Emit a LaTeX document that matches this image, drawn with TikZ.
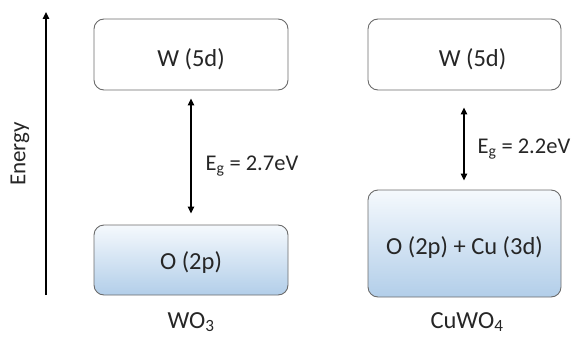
\documentclass[tikz,border=0pt]{standalone}
\usepackage{fontspec}
\setmainfont{Carlito}
\usetikzlibrary{arrows.meta}
\definecolor{boxline}{HTML}{6B6B6B}
\definecolor{gradtop}{HTML}{F5F9FD}
\definecolor{gradbot}{HTML}{B2CEE9}
\begin{document}
\begin{tikzpicture}[x=1pt,y=1pt,
  txt/.style={font=\fontsize{22.5}{26}\selectfont, text=black!85},
  big/.style={font=\fontsize{24.5}{28}\selectfont, text=black!85},
  lvl/.style={big, draw=boxline, line width=0.9pt, rounded corners=10pt, inner sep=0pt, fill=white, text height=15.8pt, text depth=0pt},
  band/.style={lvl, top color=gradtop, bottom color=gradbot},
  arr/.style={line width=1.3pt, -{Triangle[length=7pt,width=6.5pt]}},
  gap/.style={line width=1.3pt, {Triangle[length=7pt,width=6.5pt]}-{Triangle[length=7pt,width=6.5pt]}}]
\useasboundingbox (0,0) rectangle (577,338);
% energy axis
\coordinate (e0) at (46,43);
\coordinate (e1) at (46,326);
\draw[arr] (e0) -- (e1);
\node[txt, font=\fontsize{23}{26}\selectfont, rotate=90] (energy) at (20,184) {Energy};
% WO3
\node[lvl, minimum width=194pt, minimum height=71pt] (wL) at (191,283.5) {\raisebox{-4.5pt}{W (5d)}};
\node[band, minimum width=194pt, minimum height=70pt] (oL) at (191,78) {\raisebox{-2pt}{O (2p)}};
\draw[gap] ([yshift=-8pt]wL.south) -- ([yshift=11pt]oL.north);
\node[txt, anchor=base west] (gL) at (202,168) {E\textsubscript{g} = 2.7eV};
\node[big, anchor=base] (nL) at (191,10) {WO\textsubscript{3}};
% CuWO4
\node[lvl, minimum width=193pt, minimum height=71pt] (wR) at (464.5,283.5) {\raisebox{-4.5pt}{\hspace{16pt}W (5d)}};
\node[band, minimum width=193pt, minimum height=107pt] (oR) at (464.5,94.5) {\raisebox{-3.5pt}{O (2p) + Cu (3d)}};
\draw[gap] ([xshift=-0.5pt,yshift=-17pt]wR.south) -- ([xshift=-0.5pt,yshift=9pt]oR.north);
\node[txt, anchor=base west] (gR) at (474,185) {E\textsubscript{g} = 2.2eV};
\node[big, anchor=base] (nR) at (467,10) {CuWO\textsubscript{4}};
\end{tikzpicture}
\end{document}
